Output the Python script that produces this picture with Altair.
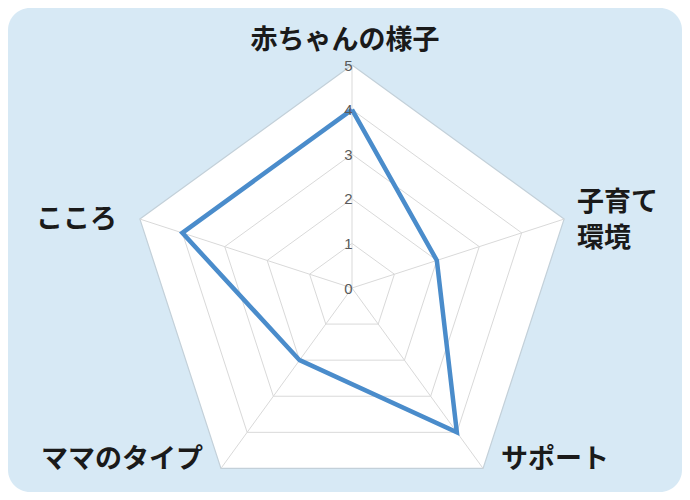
import altair as alt
import pandas as pd

# ---- data ----
categories = ["赤ちゃんの様子", "子育て\n環境", "サポート", "ママのタイプ", "こころ"]
scores = [4, 2, 4, 2, 4]
tick_labels = [0, 1, 2, 3, 4, 5]

# ---- layout ----
W, H = 674, 484
CX, CY = 344, 280
PX_PER_UNIT = 44.6
n = len(categories)
max_level = max(tick_labels)

x_scale = alt.Scale(domain=[-CX / PX_PER_UNIT, (W - CX) / PX_PER_UNIT], nice=False, zero=False)
y_scale = alt.Scale(domain=[-(H - CY) / PX_PER_UNIT, CY / PX_PER_UNIT], nice=False, zero=False)

ANG = f"datum.k * 2 * PI / {n}"


def polar(chart, rfield):
    return chart.transform_calculate(
        ang=ANG
    ).transform_calculate(
        px=f"datum.{rfield} * sin(datum.ang)",
        py=f"datum.{rfield} * cos(datum.ang)",
    )


XE = alt.X("px:Q", scale=x_scale, axis=None)
YE = alt.Y("py:Q", scale=y_scale, axis=None)

# background
bg = alt.Chart(pd.DataFrame({"a": [0]})).mark_rect(
    cornerRadius=22, color="#d7e9f5"
).encode(x=alt.value(0), x2=alt.value(W), y=alt.value(0), y2=alt.value(H))

# grid polygons
grid_df = pd.DataFrame(
    [{"level": lv, "k": k} for lv in tick_labels[1:] for k in range(n + 1)]
)
outer_df = grid_df[grid_df["level"] == max_level]

fill = polar(alt.Chart(outer_df), "level").mark_line(
    fill="white", stroke="#c3d0d9", strokeWidth=1.2
).encode(x=XE, y=YE, order="k:Q")

inner = polar(alt.Chart(grid_df[grid_df["level"] < max_level]), "level").mark_line(
    stroke="#d9d9d9", strokeWidth=1
).encode(x=XE, y=YE, order="k:Q", detail="level:N")

# spokes
spoke_df = pd.DataFrame({"k": list(range(n)), "r": [max_level] * n})
spokes = alt.Chart(spoke_df).transform_calculate(
    ang=ANG
).transform_calculate(
    px="0", py="0",
    px2="datum.r * sin(datum.ang)", py2="datum.r * cos(datum.ang)",
).mark_rule(stroke="#d9d9d9", strokeWidth=1).encode(
    x=XE, y=YE, x2="px2:Q", y2="py2:Q"
)

# series line
series_df = pd.DataFrame({
    "k": list(range(n + 1)),
    "v": scores + [scores[0]],
})
series = polar(alt.Chart(series_df), "v").mark_line(
    stroke="#4a8ccb", strokeWidth=4.5, strokeJoin="miter"
).encode(x=XE, y=YE, order="k:Q")

# tick labels
tick_df = pd.DataFrame({"v": tick_labels, "k": [0] * len(tick_labels)})
ticks = polar(alt.Chart(tick_df), "v").mark_text(
    align="right", baseline="middle", dx=0.5, dy=0.5, fontSize=15,
    font="Liberation Sans", color="#595959"
).encode(x=XE, y=YE, text="v:Q")

# category labels
label_styles = [
    dict(align="center", dx=-7, dy=-24),
    dict(align="left", dx=13, dy=-16),
    dict(align="left", dx=18, dy=-8),
    dict(align="right", dx=-18, dy=-8),
    dict(align="right", dx=-23, dy=1),
]
cat_df = pd.DataFrame({"k": list(range(n)), "cat": categories, "r": [max_level] * n})
labels = []
for i, st in enumerate(label_styles):
    labels.append(
        polar(alt.Chart(cat_df).transform_filter(f"datum.k == {i}"), "r").mark_text(
            baseline="middle", fontSize=27, fontWeight="bold",
            font="Noto Sans CJK JP", color="#1a1a1a", lineBreak="\n",
            lineHeight=36, **st
        ).encode(x=XE, y=YE, text="cat:N")
    )

chart = alt.layer(bg, fill, inner, spokes, series, ticks, *labels).properties(
    width=W, height=H, padding=0, autosize="none", background="white"
).configure_view(strokeWidth=0)

chart.save("out.html", embed_options={"renderer": "svg", "actions": False})
